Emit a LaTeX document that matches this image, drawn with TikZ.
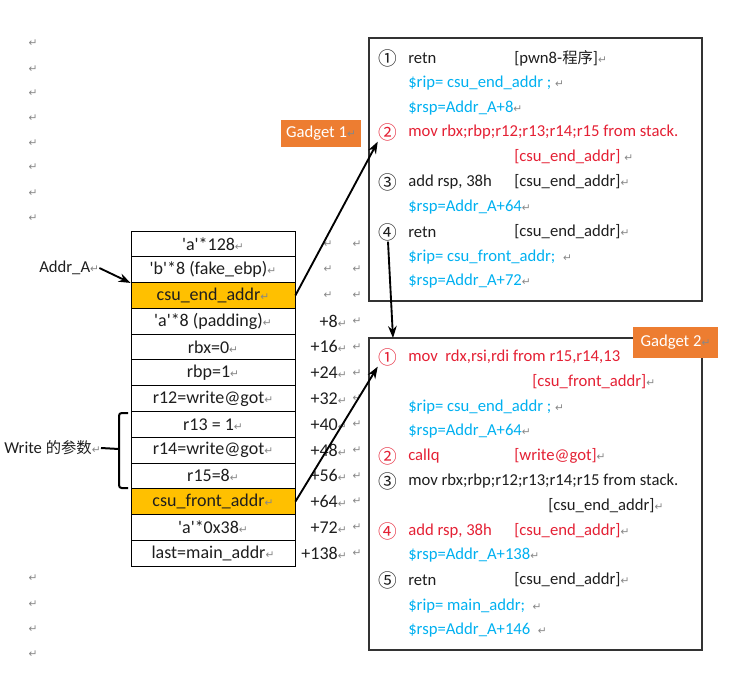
\documentclass[tikz,border=0pt]{standalone}
\usepackage{fontspec}
\setmainfont{Carlito}[Ligatures=TeXOff]
\newfontfamily\cjk{Noto Sans CJK SC}
\newfontfamily\symb{DejaVu Sans}
\usetikzlibrary{arrows.meta}
\definecolor{gold}{RGB}{255,192,0}
\definecolor{tangerine}{RGB}{237,125,49}
\definecolor{regred}{RGB}{228,32,52}
\definecolor{regblue}{RGB}{0,176,240}
\definecolor{markgray}{RGB}{135,135,135}
\definecolor{ink}{RGB}{30,30,30}
\newcommand{\parmark}{{\symb\fontsize{8}{9}\selectfont\color{markgray}↵}}
\tikzstyle{cell}=[
	draw=black,
	line width=0.6pt,
	minimum width=123pt,
	minimum height=19.33pt,
	inner sep=0pt,
	text=ink,
	font=\fontsize{13.5}{15}\selectfont
]
\tikzstyle{offset}=[
	anchor=east,
	inner sep=0pt,
	text=ink,
	font=\fontsize{13.5}{15}\selectfont
]
\tikzstyle{txt}=[
	anchor=west,
	inner sep=0pt,
	text=ink,
	font=\fontsize{12.5}{14}\selectfont
]
\tikzstyle{num}=[
	inner sep=0.5pt,
	text=ink,
	font=\cjk\fontsize{14}{15}\selectfont
]
\tikzstyle{gbox}=[
	draw=black!80,
	line width=1pt,
	inner sep=0pt
]
\tikzstyle{tag}=[
	fill=tangerine,
	text=white,
	inner sep=0pt,
	font=\fontsize{12.5}{14}\selectfont
]
\tikzstyle{link}=[
	-{Stealth[length=9pt,width=6.5pt]},
	line width=1.4pt,
	draw=black
]
\tikzstyle{pmark}=[
	inner sep=0pt
]
\begin{document}
\begin{tikzpicture}[x=0.75pt, y=-0.75pt]
\useasboundingbox (0,0) rectangle (755,689);

% stack
\foreach \i/\col/\lab in {1/white/{'a'*128}, 2/white/{'b'*8 (fake\_ebp)},
    3/gold/{csu\_end\_addr}, 4/white/{'a'*8 (padding)}, 5/white/{rbx=0},
    6/white/{rbp=1}, 7/white/{r12=write@got}, 8/white/{r13 = 1},
    9/white/{r14=write@got}, 10/white/{r15=8}, 11/gold/{csu\_front\_addr},
    12/white/{'a'*0x38}, 13/white/{last=main\_addr}}{
    \node[cell, fill=\col] (cell\i) at (213, {218.1+25.77*\i}) {\lab\parmark};
    \node[pmark] (pm\i) at (357, {218.1+25.77*\i}) {\parmark};
}
\foreach \i in {1, 2, 3}{
    \node[pmark] (em\i) at (328, {218.1+25.77*\i}) {\parmark};
}
\foreach \i/\off in {4/8, 5/16, 6/24, 7/32, 8/40, 9/48, 10/56, 11/64, 12/72, 13/138}{
    \node[offset] (off\i) at (347, {218.1+25.77*\i}) {+\off\parmark};
}

% empty paragraphs
\foreach \y in {43, 69, 93, 118, 143, 167, 193, 218, 578, 604, 629, 654}{
    \node[pmark] (lm\y) at (33, \y) {\parmark};
}

% left labels
\node[txt] (addr) at (39, 268) {Addr\_A\parmark};
\draw[link] (addr.east) -- (cell2.south west);
\node[txt, anchor=east] (wlab) at (101, 448) {Write {\cjk\fontsize{11.5}{14}\selectfont 的参数}\parmark};
\coordinate (bmid) at (119, 449);
\draw[line width=1.5pt, rounded corners=2pt] (128, 413) -- (119, 413) -- (119, 488) -- (128, 488);
\draw[line width=1.5pt] (wlab.east) -- (bmid);

% gadget 1
\node[gbox, minimum width=249.75pt, minimum height=197.25pt] (g1box) at (535.5, 169.5) {};
\node[num] (g1n1) at (388, 58) {①};
\node[txt] (g1t1) at (408, 58) {retn};
\node[txt] (g1b1) at (514, 58) {[pwn8-{\cjk\fontsize{11.5}{14}\selectfont 程序}]\parmark};
\node[txt, text=regblue] (g1t2) at (408, 83) {\$rip= csu\_end\_addr ; \parmark};
\node[txt, text=regblue] (g1t3) at (408, 108) {\$rsp=Addr\_A+8\parmark};
\node[num, text=regred] (g1n2) at (388, 132) {②};
\node[txt, text=regred] (g1t4) at (408, 132) {mov rbx;rbp;r12;r13;r14;r15 from stack.};
\node[txt, text=regred] (g1b4) at (514, 157) {[csu\_end\_addr] \parmark};
\node[num] (g1n3) at (388, 182) {③};
\node[txt] (g1t5) at (408, 182) {add rsp, 38h};
\node[txt] (g1b5) at (514, 182) {[csu\_end\_addr]\parmark};
\node[txt, text=regblue] (g1t6) at (408, 207) {\$rsp=Addr\_A+64\parmark};
\node[num] (g1n4) at (388, 232) {④};
\node[txt] (g1t7) at (408, 232) {retn};
\node[txt] (g1b7) at (514, 232) {[csu\_end\_addr]\parmark};
\node[txt, text=regblue] (g1t8) at (408, 257) {\$rip= csu\_front\_addr;~ \parmark};
\node[txt, text=regblue] (g1t9) at (408, 281) {\$rsp=Addr\_A+72\parmark};
\node[tag, minimum width=60pt, minimum height=20.25pt] (tag1) at (321, 133.5) {Gadget 1\parmark};

% gadget 2
\node[gbox, minimum width=249.75pt, minimum height=234pt] (g2box) at (535.5, 494) {};
\coordinate (g2top) at (393, 338);
\node[num, text=regred] (g2n1) at (388, 357) {①};
\node[txt, text=regred] (g2t1) at (408, 357) {mov\ \ rdx,rsi,rdi from r15,r14,13};
\node[txt, text=regred] (g2b1) at (532, 382) {[csu\_front\_addr]\parmark};
\node[txt, text=regblue] (g2t2) at (408, 407) {\$rip= csu\_end\_addr ; \parmark};
\node[txt, text=regblue] (g2t3) at (408, 431) {\$rsp=Addr\_A+64\parmark};
\node[num, text=regred] (g2n2) at (388, 456) {②};
\node[txt, text=regred] (g2t4) at (408, 456) {callq};
\node[txt, text=regred] (g2b4) at (514, 456) {[write@got]\parmark};
\node[num] (g2n3) at (388, 481) {③};
\node[txt] (g2t5) at (408, 481) {mov rbx;rbp;r12;r13;r14;r15 from stack.};
\node[txt] (g2b5) at (548, 506) {[csu\_end\_addr]\parmark};
\node[num, text=regred] (g2n4) at (388, 531) {④};
\node[txt, text=regred] (g2t6) at (408, 531) {add rsp, 38h};
\node[txt, text=regred] (g2b6) at (514, 531) {[csu\_end\_addr]\parmark};
\node[txt, text=regblue] (g2t7) at (408, 555) {\$rsp=Addr\_A+138\parmark};
\node[num] (g2n5) at (388, 580) {⑤};
\node[txt] (g2t8) at (408, 580) {retn};
\node[txt] (g2b8) at (514, 580) {[csu\_end\_addr]\parmark};
\node[txt, text=regblue] (g2t9) at (408, 606) {\$rip= main\_addr;~ \parmark};
\node[txt, text=regblue] (g2t10) at (408, 630) {\$rsp=Addr\_A+146~ \parmark};
\node[tag, minimum width=63.75pt, minimum height=23.25pt] (tag2) at (675.5, 342.5) {Gadget 2\parmark};

% jumps
\draw[link] (cell3.east) -- (g1n2.south west);
\draw[link] (g1n4.south) -- (g2top);
\draw[link] (cell11.east) -- (g2n1.south west);

\end{tikzpicture}
\end{document}
